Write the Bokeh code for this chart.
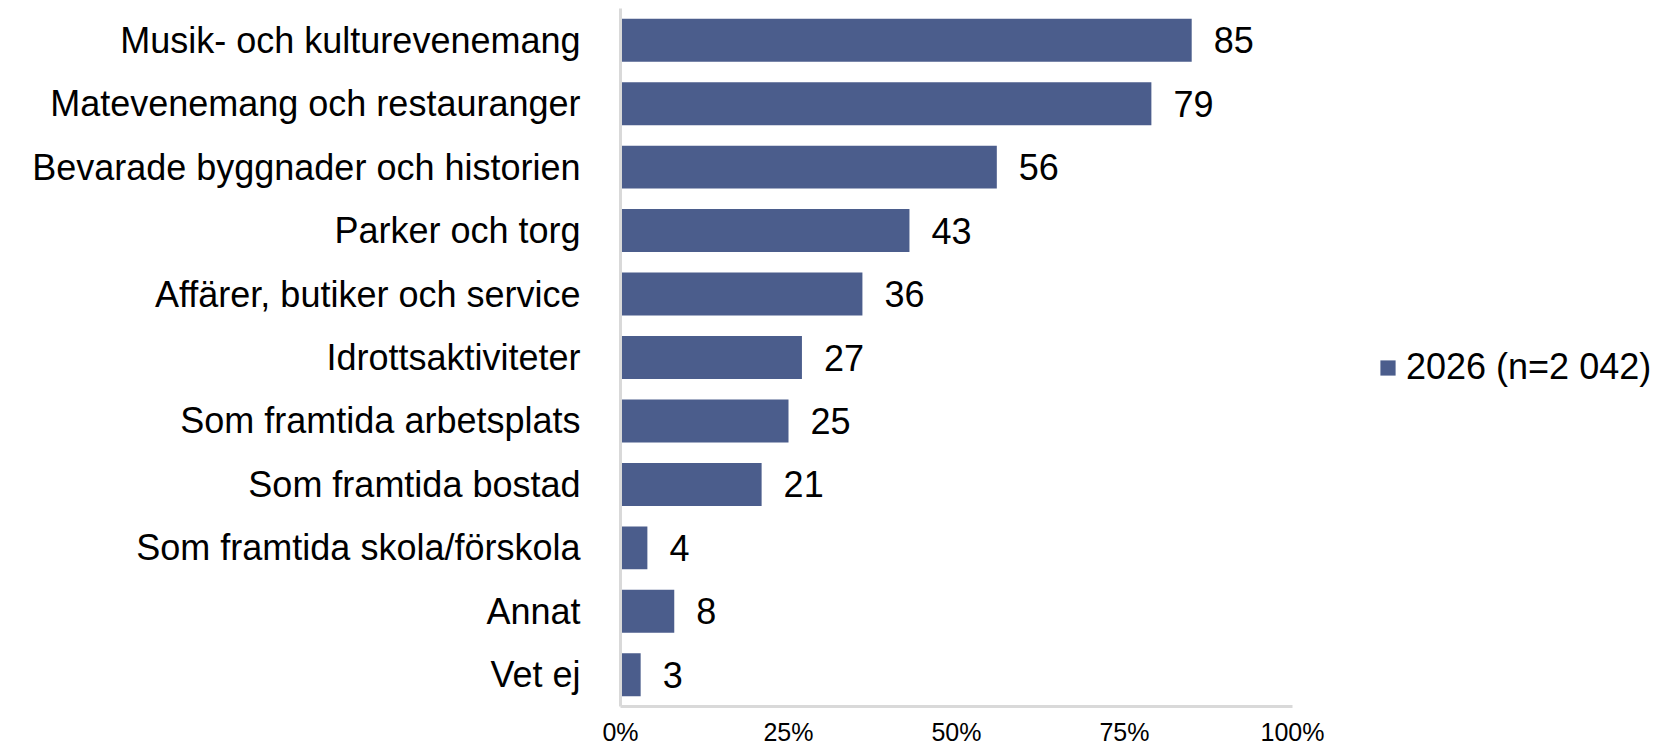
from bokeh.plotting import figure
from bokeh.models import FactorRange, Range1d, FixedTicker, ColumnDataSource, Legend, LegendItem
from bokeh.core.properties import value
from bokeh.embed import file_html
from bokeh.resources import INLINE

categories = [
    "Musik- och kulturevenemang",
    "Matevenemang och restauranger",
    "Bevarade byggnader och historien",
    "Parker och torg",
    "Affärer, butiker och service",
    "Idrottsaktiviteter",
    "Som framtida arbetsplats",
    "Som framtida bostad",
    "Som framtida skola/förskola",
    "Annat",
    "Vet ej",
]
values_2026 = [85, 79, 56, 43, 36, 27, 25, 21, 4, 8, 3]
series_name = "2026 (n=2 042)"
tick_values = [0, 25, 50, 75, 100]
tick_labels = {0: "0%", 25: "25%", 50: "50%", 75: "75%", 100: "100%"}

FONT = "Liberation Sans"
BAR_COLOR = "#4B5D8C"

W, H = 1658, 748
LEFT = 620
TOP = 8
BOTTOM = 40
px_per_unit = 6.72
frame_w = W - LEFT
x_end = frame_w / px_per_unit

src = ColumnDataSource(dict(cat=categories, val=values_2026,
                            lab=[str(v) for v in values_2026]))

p = figure(width=W, height=H, output_backend="svg", toolbar_location=None,
           y_range=FactorRange(factors=list(reversed(categories)), range_padding=0),
           x_range=Range1d(0, x_end),
           min_border_left=LEFT, min_border_right=0, min_border_top=TOP,
           min_border_bottom=BOTTOM)
p.outline_line_color = None
p.xgrid.visible = False
p.ygrid.visible = False
p.background_fill_color = "white"
p.border_fill_color = "white"

r = p.hbar(y="cat", right="val", left=0, height=0.677, source=src,
           fill_color=BAR_COLOR, line_color=None)

p.text(x="val", y="cat", text="lab", source=src, x_offset=22,
       text_baseline="middle", text_align="left",
       text_font=value(FONT), text_font_size="36px", text_color="#000000")

# x axis
xa = p.xaxis[0]
xa.ticker = FixedTicker(ticks=tick_values)
xa.major_label_overrides = tick_labels
xa.bounds = (0, 100)
xa.axis_line_color = "#d9d9d9"
xa.axis_line_width = 3
xa.major_tick_line_color = None
xa.minor_tick_line_color = None
xa.major_tick_out = 0
xa.major_tick_in = 0
xa.major_label_standoff = 11
xa.major_label_text_font = FONT
xa.major_label_text_font_size = "25px"
xa.major_label_text_color = "#000000"

# y axis
ya = p.yaxis[0]
ya.axis_line_color = "#d9d9d9"
ya.axis_line_width = 3
ya.major_tick_line_color = None
ya.minor_tick_line_color = None
ya.major_tick_out = 0
ya.major_tick_in = 0
ya.major_label_standoff = 40
ya.major_label_text_font = FONT
ya.major_label_text_font_size = "36px"
ya.major_label_text_color = "#000000"

legend = Legend(items=[LegendItem(label=series_name, renderers=[r])],
                location=(758, 318), orientation="vertical")
legend.border_line_color = None
legend.background_fill_alpha = 0
legend.padding = 0
legend.margin = 0
legend.glyph_width = 19
legend.glyph_height = 19
legend.label_standoff = 9
legend.label_text_font = FONT
legend.label_text_font_size = "36px"
legend.label_text_color = "#000000"
legend.label_text_baseline = "middle"
p.add_layout(legend, "center")

open("out.html", "w").write(file_html(p, INLINE))
